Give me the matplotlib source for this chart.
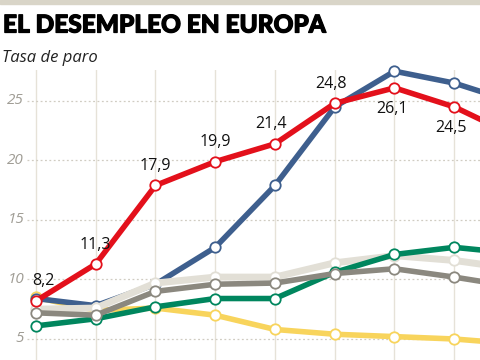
import matplotlib
matplotlib.use("Agg")
import matplotlib.pyplot as plt
import matplotlib.patheffects as pe
from matplotlib.patches import Rectangle

# datos: tasa de paro 2007-2015
years = [2007, 2008, 2009, 2010, 2011, 2012, 2013, 2014, 2015]
espana = [8.2, 11.3, 17.9, 19.9, 21.4, 24.8, 26.1, 24.5, 22.1]
grecia = [8.4, 7.8, 9.6, 12.7, 17.9, 24.5, 27.5, 26.5, 24.9]
italia = [6.1, 6.7, 7.7, 8.4, 8.4, 10.6, 12.1, 12.7, 12.2]
alemania = [8.5, 7.4, 7.6, 7.0, 5.8, 5.4, 5.2, 5.0, 4.6]
eurozona = [7.5, 7.6, 9.7, 10.2, 10.2, 11.4, 12.0, 11.6, 10.9]
ue28 = [7.2, 7.0, 9.0, 9.6, 9.7, 10.5, 10.9, 10.2, 9.4]
yticks = [5, 10, 15, 20, 25]

fig = plt.figure(figsize=(4.8, 3.6), dpi=100)
ax = fig.add_axes([0, 0, 1, 1 - 70 / 360])

x = list(range(len(years)))
ax.set_xlim(-0.6025, 7.431)
ax.set_ylim(3.235, 27.6)

# rejilla
for xi in x:
    ax.axvline(xi, color="#e6e2d8", lw=1, zorder=0)
for yv in yticks:
    ax.hlines(yv, -0.15, 8.5, colors="#d0ccc2", lw=0.9, linestyles=(0, (1.5, 2)), zorder=0)
    ax.text(-0.2, yv, str(yv), ha="right", va="center", fontsize=11,
            style="italic", color="#a09d95", family="Open Sans")

series = [
    (alemania, "#f8d45c", 4.0, 2),
    (grecia, "#3e5f8e", 4.0, 3),
    (eurozona, "#e2dfd6", 5.0, 4),
    (italia, "#00865e", 4.0, 5),
    (ue28, "#8b887f", 4.0, 6),
    (espana, "#e3101b", 4.0, 7),
]
for vals, col, lw, z in series:
    ax.plot(x, vals, color=col, lw=lw, marker="o", ms=7.5, mfc="white",
            mec=col, mew=1.3, zorder=z, clip_on=False)

# etiquetas de España
for i, v in enumerate(espana):
    lab = f"{v:.1f}".replace(".", ",")
    if i >= 6:
        ax.annotate(lab, (i, v), xytext=(-2, -15), textcoords="offset points",
                    ha="center", va="center", fontsize=11.5, family="Open Sans",
                    color="#111111", zorder=10)
    else:
        dx = 5 if i == 0 else (-3 if i in (4, 5) else 0)
        ax.annotate(lab, (i, v), xytext=(dx, 14), textcoords="offset points",
                    ha="center", va="center", fontsize=11.5, family="Open Sans",
                    color="#111111", zorder=10)

ax.set_axis_off()

# cabecera
fig.patches.append(Rectangle((0, 1 - 4 / 360), 1, 4 / 360, transform=fig.transFigure,
                             color="#d9d5c8", zorder=0))
fig.text(3 / 480, 1 - 25 / 360, "EL DESEMPLEO EN EUROPA", ha="left", va="center",
         fontsize=17.6, fontweight="black", family="Lato", color="black",
         path_effects=[pe.withStroke(linewidth=0.9, foreground="black")])
fig.text(2 / 480, 1 - 58 / 360, "Tasa de paro", ha="left", va="center",
         fontsize=12, style="italic", family="Open Sans", color="#222222")

fig.savefig("out.png", dpi=100)
